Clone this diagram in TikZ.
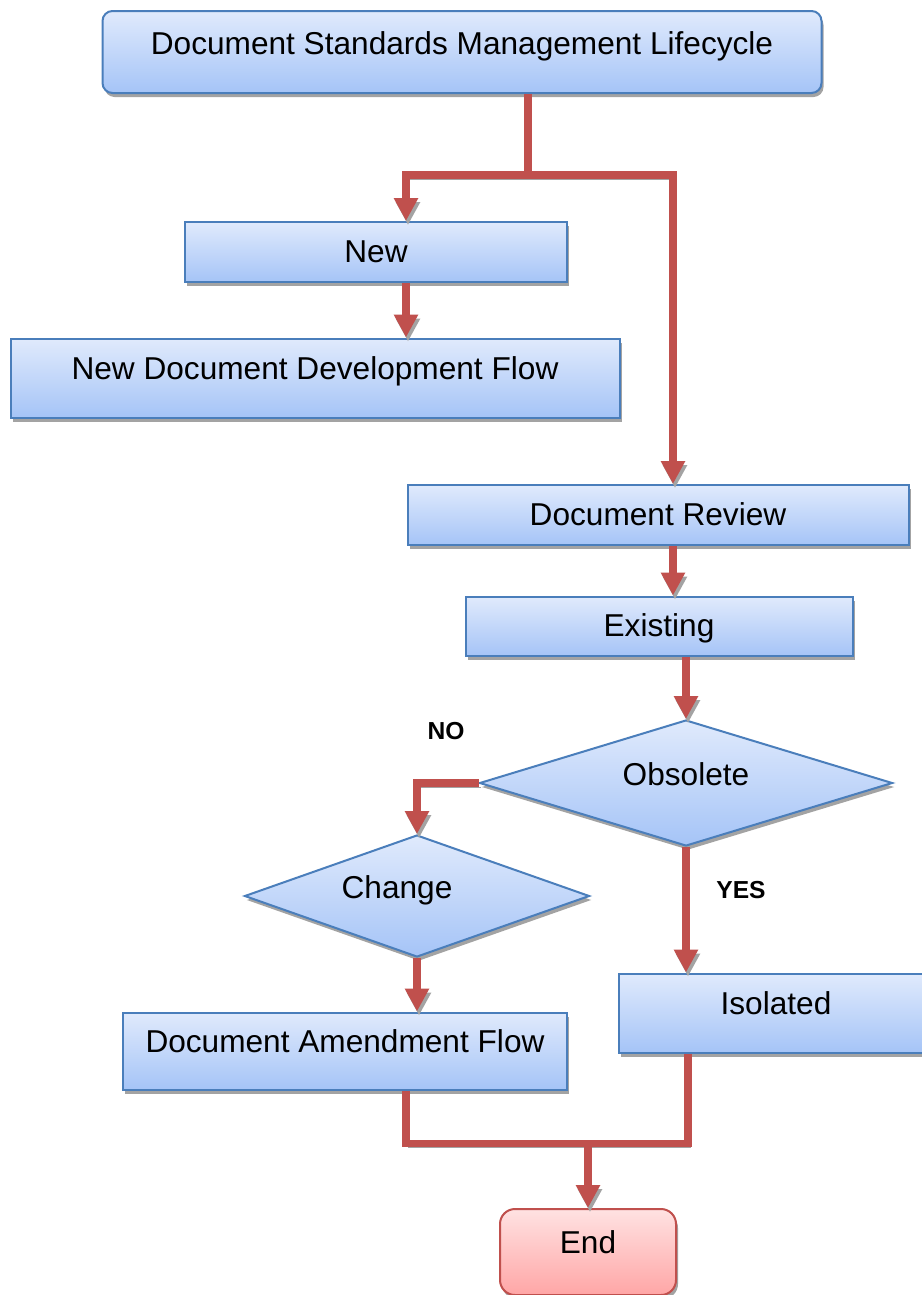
\documentclass[tikz,border=0pt]{standalone}
\usepackage{fontspec}
\setmainfont{Liberation Sans}
\usetikzlibrary{arrows.meta,shapes.geometric,shadows}
\newlength\pxu
\setlength\pxu{0.02cm}
\definecolor{Link}{HTML}{C0504D}
\definecolor{BoxEdge}{HTML}{4A7EBB}
\definecolor{BoxTop}{HTML}{E0EAFC}
\definecolor{BoxBottom}{HTML}{A5C4F7}
\definecolor{EndTop}{HTML}{FFE2E2}
\definecolor{EndBottom}{HTML}{FFA6A6}
\definecolor{Shade}{HTML}{A3A3A3}

\begin{document}
\begin{tikzpicture}[x=\pxu,y=-\pxu,
  box/.style={rectangle,draw=BoxEdge,line width=2\pxu,top color=BoxTop,bottom color=BoxBottom,
    general shadow={fill=Shade,shadow xshift=2\pxu,shadow yshift=-4\pxu},
    font=\fontsize{18}{21}\selectfont,inner sep=0pt,text height=1.25em,text depth=0em},
  tallbox/.style={box,text height=0.75em,text depth=0.62em},
  titlebox/.style={box,rounded corners=10\pxu,text height=0.75em,text depth=0.42em},
  endbox/.style={tallbox,rounded corners=15\pxu,draw=Link,top color=EndTop,bottom color=EndBottom},
  decision/.style={diamond,aspect=3,draw=BoxEdge,line width=2\pxu,top color=BoxTop,bottom color=BoxBottom,
    general shadow={fill=Shade,shadow xshift=2\pxu,shadow yshift=-4\pxu},
    font=\fontsize{18}{21}\selectfont,inner sep=0pt,text height=0.75em,text depth=0.5em},
  answer/.style={font=\fontsize{14}{16}\selectfont\bfseries},
  link/.style={draw=Link,line width=4pt,preaction={draw=Shade,transform canvas={shift={(2,4)}}}},
  flow/.style={link,-{Triangle[width=13pt,length=13pt]}}
]
\useasboundingbox (0,0) rectangle (922,1295);
\clip (0,0) rectangle (922,1295);
\fill[white] (0,0) rectangle (922,1295);

% boxes
\node[titlebox,minimum width=719\pxu,minimum height=82\pxu] (title) at (462,52) {Document Standards Management Lifecycle};
\node[box,minimum width=382\pxu,minimum height=60\pxu] (new) at (376,252) {New};
\node[tallbox,minimum width=609\pxu,minimum height=79\pxu] (nddf) at (315,378) {New Document Development Flow};
\node[box,minimum width=501\pxu,minimum height=60\pxu] (review) at (658,515) {Document Review};
\node[box,minimum width=387\pxu,minimum height=59\pxu] (existing) at (659,626) {Existing};
\node[decision,minimum width=413\pxu,minimum height=126\pxu] (obsolete) at (686,783) {Obsolete};
\node[decision,minimum width=345\pxu,minimum height=122\pxu,
  label={[font=\fontsize{18}{21}\selectfont,xshift=-20\pxu,yshift=6\pxu]center:Change}] (change) at (417,896) {};
\node[tallbox,minimum width=444\pxu,minimum height=77\pxu] (amend) at (345,1051) {Document Amendment Flow};
\node[tallbox,minimum width=314\pxu,minimum height=79\pxu] (isolated) at (776,1013) {Isolated};
\node[endbox,minimum width=176\pxu,minimum height=86\pxu] (end) at (588,1252) {End};

% answers
\node[answer] (nolbl) at (446,731) {NO};
\node[answer] (yeslbl) at (741,890) {YES};

% connectors
\coordinate (fork) at (528,175);
\coordinate (forkL) at (406,175);
\coordinate (forkR) at (673,175);
\draw[flow] (title.south -| fork) -- (fork) -| (new.north -| forkL);
\draw[flow] (fork) -| (review.north -| forkR);
\draw[flow] (new.south -| forkL) -- (nddf.north -| forkL);
\draw[flow] (review.south -| forkR) -- (existing.north -| forkR);
\draw[flow] (existing.south -| obsolete.north) -- (obsolete.north);
\draw[flow] (obsolete.west) -| (change.north);
\draw[flow] (change.south) -- (change.south |- amend.north);
\draw[flow] (obsolete.south) -- (obsolete.south |- isolated.north);

\coordinate (joinL) at (406,1143);
\coordinate (joinR) at (688,1143);
\draw[link] (amend.south -| joinL) -- (joinL) -- (joinR) -- (isolated.south -| joinR);
\draw[flow] (joinL -| end.north) -- (end.north);
\end{tikzpicture}
\end{document}
